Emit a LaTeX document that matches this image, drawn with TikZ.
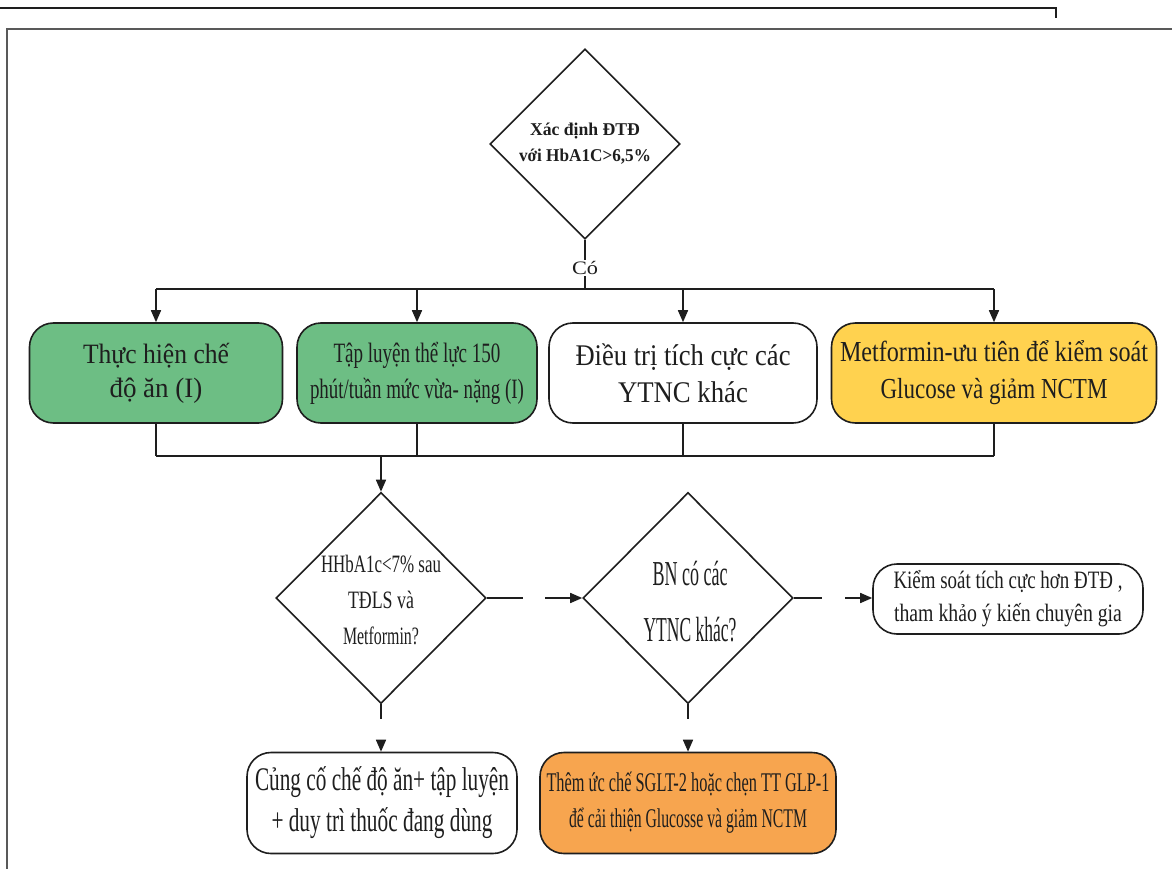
\documentclass[tikz,border=0pt]{standalone}
\usepackage{fontspec}
\usepackage{graphicx}
\setmainfont{Liberation Serif}
\usetikzlibrary{shapes.geometric,arrows.meta}
\newcommand\wl[2]{\resizebox{#1pt}{\height}{#2}}
\newcommand\fs[2]{\fontsize{#1}{#2}\selectfont}
\definecolor{gr}{HTML}{6DBE84}
\definecolor{ye}{HTML}{FFD24F}
\definecolor{orng}{HTML}{F7A54F}
\definecolor{ink}{HTML}{1E1E1E}
\begin{document}
\begin{tikzpicture}[x=1pt,y=-1pt,
  box/.style={draw=ink,line width=1.6pt,rounded corners=24pt,inner sep=0pt,align=center,text=ink},
  dia/.style={draw=ink,diamond,line width=1.6pt,inner sep=0pt,align=center,text=ink},
  dtext/.style={inner sep=0pt,align=center,text=ink},
  ln/.style={line width=1.6pt,draw=ink},
  arr/.style={ln,-{Triangle[length=12pt,width=10pt]}}]
\useasboundingbox (0,0) rectangle (1172,869);
\fill[white] (0,0) rectangle (1172,869);
% page frame
\draw[line width=1.5pt,ink] (0,8) -- (1056,8) -- (1056,18);
\draw[line width=2pt,black!65] (1172,29) -- (7,29) -- (7,869);

% top decision
\node[dia,minimum width=190pt,minimum height=190pt,font=\bfseries\fs{18}{26}] (d0) at (585,144)
  {\wl{110}{Xác định ĐTĐ}\\\wl{132}{với HbA1C>6,5\%}};
\node[font=\fs{19}{22},fill=white,inner sep=1pt,text=ink] (co) at (585,268) {\wl{26}{Có}};

% first row
\node[box,fill=gr,minimum width=253pt,minimum height=100pt,font=\fs{28}{34}] (b1) at (156,373)
  {\wl{146}{Thực hiện chế}\\\wl{93}{độ ăn (I)}};
\node[box,fill=gr,minimum width=240pt,minimum height=100pt,font=\fs{28}{36}] (b2) at (417,373)
  {\wl{167}{Tập luyện thể lực 150}\\\wl{214}{phút/tuần mức vừa- nặng (I)}};
\node[box,fill=white,minimum width=268pt,minimum height=100pt,font=\fs{30}{37}] (b3) at (683,373)
  {\wl{215}{Điều trị tích cực các}\\\wl{130}{YTNC khác}};
\node[box,fill=ye,minimum width=325pt,minimum height=100pt,font=\fs{29}{37}] (b4) at (994,373)
  {\wl{308}{Metformin-ưu tiên để kiểm soát}\\\wl{227}{Glucose và giảm NCTM}};

% second row
\node[dia,minimum width=210pt,minimum height=211pt] (d2) at (381,598) {};
\node[dtext,font=\fs{25}{36}] (d2t) at (381,600)
  {\wl{120}{HHbA1c<7\% sau}\\\wl{66}{TĐLS và}\\\wl{76}{Metformin?}};
\node[dia,minimum width=210pt,minimum height=211pt] (d3) at (688,598) {};
\node[dtext,font=\fs{35}{56}] (d3t) at (690,602)
  {\wl{75}{BN có các}\\\wl{93}{YTNC khác?}};
\node[box,fill=white,minimum width=270pt,minimum height=70pt,font=\fs{25}{33}] (b5) at (1008,599)
  {\wl{229}{Kiểm soát tích cực hơn ĐTĐ ,}\\\wl{228}{tham khảo ý kiến chuyên gia}};

% third row
\node[box,fill=white,minimum width=270pt,minimum height=101pt,font=\fs{33}{41}] (b6) at (382,803)
  {\wl{254}{Củng cố chế độ ăn+ tập luyện}\\\wl{221}{+ duy trì thuốc đang dùng}};
\node[box,fill=orng,minimum width=296pt,minimum height=101pt,font=\fs{27}{36}] (b7) at (688,803)
  {\wl{283}{Thêm ức chế SGLT-2 hoặc chẹn TT GLP-1}\\\wl{238}{để cải thiện Glucosse và giảm NCTM}};

% connectors: top fan-out
\coordinate (top) at (585,289);
\draw[ln] (d0.south) -- (co.north);
\draw[ln] (co.south) -- (top);
\draw[ln] (b1.north |- top) -- (b4.north |- top);
\foreach \b in {b1,b2,b3,b4} \draw[arr] (\b.north |- top) -- (\b.north);

% fan-in
\coordinate (bot) at (381,456);
\foreach \b in {b1,b2,b3,b4} \draw[ln] (\b.south) -- (\b.south |- bot);
\draw[ln] (b1.south |- bot) -- (b4.south |- bot);
\draw[arr] (bot) -- (d2.north);

% broken connectors
\coordinate (g1) at (523,598); \coordinate (g2) at (545,598);
\draw[ln] (d2.east) -- (g1); \draw[arr] (g2) -- (d3.west);
\coordinate (g3) at (822,598); \coordinate (g4) at (845,598);
\draw[ln] (d3.east) -- (g3); \draw[arr] (g4) -- (g4 -| b5.west);
\coordinate (g5) at (381,719); \coordinate (g6) at (381,740);
\draw[ln] (d2.south) -- (g5); \draw[arr] (g6) -- (g6 |- b6.north);
\coordinate (g7) at (688,719); \coordinate (g8) at (688,740);
\draw[ln] (d3.south) -- (g7); \draw[arr] (g8) -- (g8 |- b7.north);
\end{tikzpicture}
\end{document}
